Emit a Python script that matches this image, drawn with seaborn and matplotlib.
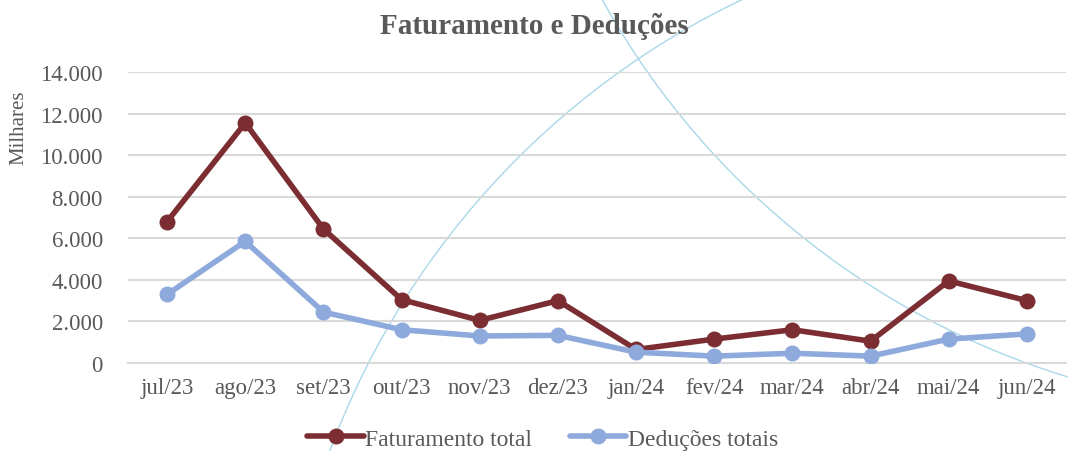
import numpy as np
import pandas as pd
import matplotlib
matplotlib.use("Agg")
import matplotlib.pyplot as plt
from matplotlib.patches import Arc
import seaborn as sns

months = ["jul/23", "ago/23", "set/23", "out/23", "nov/23", "dez/23",
          "jan/24", "fev/24", "mar/24", "abr/24", "mai/24", "jun/24"]
faturamento = [6800, 11550, 6450, 3050, 2050, 3000, 650, 1150, 1600, 1050, 3950, 3000]
deducoes = [3300, 5850, 2450, 1600, 1300, 1330, 520, 330, 470, 330, 1150, 1400]
series_names = ["Faturamento total", "Deduções totais"]
series_colors = ["#7B2D32", "#8EA9DB"]

df = pd.DataFrame({
    "mes": months * 2,
    "valor": faturamento + deducoes,
    "serie": [series_names[0]] * len(months) + [series_names[1]] * len(months),
})
df["pos"] = list(range(len(months))) * 2

sns.set_theme(style="white")
plt.rcParams["font.family"] = ["Liberation Serif", "DejaVu Serif"]
gray = "#595959"

W, H = 1068, 452
fig = plt.figure(figsize=(W / 100, H / 100), dpi=100)
ax = fig.add_axes([128 / W, 1 - 364 / H, (1066 - 128) / W, (364 - 73) / H])
ax.set_facecolor("none")

# decorative background arcs (pixel centre/radius converted to figure fraction)
for cx, cy, r in [(1093, 735, 814), (1302, -387, 800)]:
    arc = Arc((cx / W, 1 - cy / H), 2 * r / W, 2 * r / H, transform=fig.transFigure,
              color="#A9D8E8", lw=1.0, zorder=0)
    fig.add_artist(arc)

sns.lineplot(data=df, x="pos", y="valor", hue="serie", palette=series_colors,
             marker="o", markersize=11.5, markeredgewidth=0, linewidth=4,
             ax=ax, zorder=3, legend=False)

ax.set_xlim(-0.5, len(months) - 0.5)
ax.set_ylim(0, 14000)
ax.set_yticks(np.arange(0, 14001, 2000))
ax.set_yticklabels([f"{v:,}".replace(",", ".") for v in range(0, 14001, 2000)])
ax.set_xticks(range(len(months)))
ax.set_xticklabels(months)
ax.set_xticks(np.arange(-0.5, len(months), 1), minor=True)
ax.tick_params(axis="x", which="major", length=0, pad=10, labelsize=16.5, labelcolor=gray)
ax.tick_params(axis="x", which="minor", length=8, width=1.5, color="#D9D9D9")
ax.tick_params(axis="y", length=0, pad=18, labelsize=16.5, labelcolor=gray)
ax.grid(axis="y", color="#D9D9D9", linewidth=1.5, zorder=1)
ax.grid(axis="x", visible=False)
for side in ["top", "right", "left"]:
    ax.spines[side].set_visible(False)
ax.spines["bottom"].set_color("#D9D9D9")
ax.spines["bottom"].set_linewidth(1.5)
ax.set_xlabel("")
ax.set_ylabel("Milhares", fontsize=15, color=gray)
ax.yaxis.set_label_coords(-100 / (1066 - 128), (364 - 128) / (364 - 73))

fig.text(0.5, 1 - 26 / H, "Faturamento e Deduções", ha="center", va="center",
         fontsize=21, fontweight="bold", color=gray)

handles = [plt.Line2D([], [], color=c, lw=4, marker="o", markersize=11.5, markeredgewidth=0)
           for c in series_colors]
fig.legend(handles, series_names, loc="center", bbox_to_anchor=(0.508, 1 - 440 / H),
           ncol=2, frameon=False, fontsize=17, handlelength=2.4, handletextpad=0.05,
           columnspacing=1.6, labelcolor=gray)

fig.savefig("out.png", dpi=100)
